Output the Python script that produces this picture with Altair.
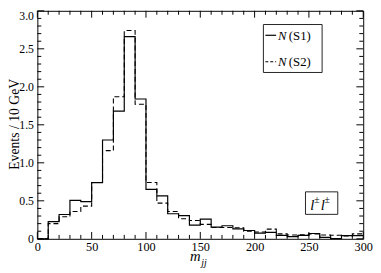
import altair as alt
import pandas as pd

# ---- data (10 GeV bins, 0-300 GeV) ----
bin_starts = list(range(0, 300, 10))
s1 = [0.0, 0.226, 0.32, 0.505, 0.49, 0.74, 1.30, 1.68, 2.66, 1.84,
      0.65, 0.565, 0.33, 0.305, 0.18, 0.26, 0.155, 0.172, 0.13, 0.11,
      0.075, 0.085, 0.045, 0.028, 0.045, 0.07, 0.018, 0.003, 0.043, 0.043]
s2 = [0.0, 0.20, 0.29, 0.36, 0.43, 0.74, 1.16, 1.87, 2.74, 1.77,
      0.74, 0.47, 0.36, 0.265, 0.24, 0.19, 0.15, 0.15, 0.145, 0.10,
      0.09, 0.128, 0.065, 0.05, 0.052, 0.065, 0.05, 0.048, 0.037, 0.065]
x_major = [0, 50, 100, 150, 200, 250, 300]
x_minor = [v for v in range(0, 301, 10) if v % 50 != 0]
y_major = [0.0, 0.5, 1.0, 1.5, 2.0, 2.5, 3.0]
y_minor = [round(v * 0.1, 1) for v in range(0, 31) if v % 5 != 0]

W, H = 333, 233
FONT = "Liberation Serif"

edges = bin_starts + [300]
df1 = pd.DataFrame({"x": edges, "y": s1 + [s1[-1]]})
df2 = pd.DataFrame({"x": edges, "y": s2 + [s2[-1]]})

xscale = alt.Scale(domain=[0, 300], nice=False, zero=False)
yscale = alt.Scale(domain=[0, 3], nice=False)

xaxis = alt.Axis(values=x_major, ticks=False, domain=False, grid=False, title=None,
                 labelFont=FONT, labelFontSize=12.5, labelColor="black", labelPadding=2,
                 labelFlush=False)
yaxis = alt.Axis(values=y_major, ticks=False, domain=False, grid=False, title=None,
                 labelFont=FONT, labelFontSize=12, labelColor="black", labelPadding=4,
                 labelExpr="datum.value == 0 ? '0' : format(datum.value, '.1f')",
                 labelBaseline={"condition": {"test": "datum.value == 3", "value": "top"},
                                "value": "middle"})

def X(f):
    return alt.X(f, scale=xscale, axis=xaxis)

def Y(f):
    return alt.Y(f, scale=yscale, axis=yaxis)

line1 = alt.Chart(df1).mark_line(interpolate="step-after", color="black", strokeWidth=1.2).encode(
    x=X("x:Q"), y=Y("y:Q"))
line2 = alt.Chart(df2).mark_line(interpolate="step-after", color="black", strokeWidth=1.1,
                                 strokeDash=[5, 3]).encode(x=X("x:Q"), y=Y("y:Q"))

def xticks(vals, length):
    d = pd.DataFrame({"v": vals})
    base = alt.Chart(d).mark_rule(color="black", strokeWidth=1)
    bot = base.encode(x=X("v:Q"), y=alt.value(H), y2=alt.value(H - length))
    top = base.encode(x=X("v:Q"), y=alt.value(0), y2=alt.value(length))
    return [bot, top]

def yticks(vals, length):
    d = pd.DataFrame({"v": vals})
    base = alt.Chart(d).mark_rule(color="black", strokeWidth=1)
    left = base.encode(y=Y("v:Q"), x=alt.value(0), x2=alt.value(length))
    right = base.encode(y=Y("v:Q"), x=alt.value(W), x2=alt.value(W - length))
    return [left, right]

one = pd.DataFrame({"a": [0]})

def txt(s, x, y, size, italic=False, align="left", baseline="alphabetic", angle=0):
    kw = dict(text=s, font=FONT, fontSize=size, color="black", align=align, baseline=baseline)
    if italic:
        kw["fontStyle"] = "italic"
    if angle:
        kw["angle"] = angle
    return alt.Chart(one).mark_text(**kw).encode(x=alt.value(x), y=alt.value(y))

def box(x1, x2, y1, y2):
    return alt.Chart(one).mark_rect(fill="white", fillOpacity=0, stroke="#222222", strokeWidth=1).encode(
        x=alt.value(x1), x2=alt.value(x2), y=alt.value(y1), y2=alt.value(y2))

# legend
leg = [
    box(231, 291, 14, 63),
    alt.Chart(one).mark_rule(color="black", strokeWidth=1.2).encode(
        x=alt.value(233), x2=alt.value(244), y=alt.value(25)),
    alt.Chart(one).mark_rule(color="black", strokeWidth=1.1, strokeDash=[3, 2]).encode(
        x=alt.value(233), x2=alt.value(244), y=alt.value(52)),
    txt("N", 246, 29.5, 13, italic=True),
    txt("(S1)", 257, 29.5, 13),
    txt("N", 246, 56.5, 13, italic=True),
    txt("(S2)", 257, 56.5, 13),
]

# l±l± label
lab = [
    box(274, 307, 185, 208),
    txt("l", 279, 204, 15, italic=True),
    txt("\u00b1", 283, 196, 10),
    txt("l", 289.5, 204, 15, italic=True),
    txt("\u00b1", 293.5, 196, 10),
]

titles = [
    txt("m", 156, 256, 15, italic=True),
    txt("jj", 167.5, 260.5, 10, italic=True),
    txt("Events / 10 GeV", -19, 116, 14, align="center", baseline="alphabetic", angle=270),
]

layers = [line1, line2] + xticks(x_major, 7) + xticks(x_minor, 4) + yticks(y_major, 7) + yticks(y_minor, 4) \
    + leg + lab + titles

chart = alt.layer(*layers).properties(
    width=W, height=H,
    padding={"left": 30, "top": 0, "right": 10, "bottom": 30},
    autosize=alt.AutoSizeParams(type="none"),
    background="white",
).configure_view(stroke="black", strokeWidth=1).configure_axis(
    labelFont=FONT, labelColor="black"
).configure_text(font=FONT)

chart.save("out.html", embed_options={"renderer": "svg", "actions": False})
